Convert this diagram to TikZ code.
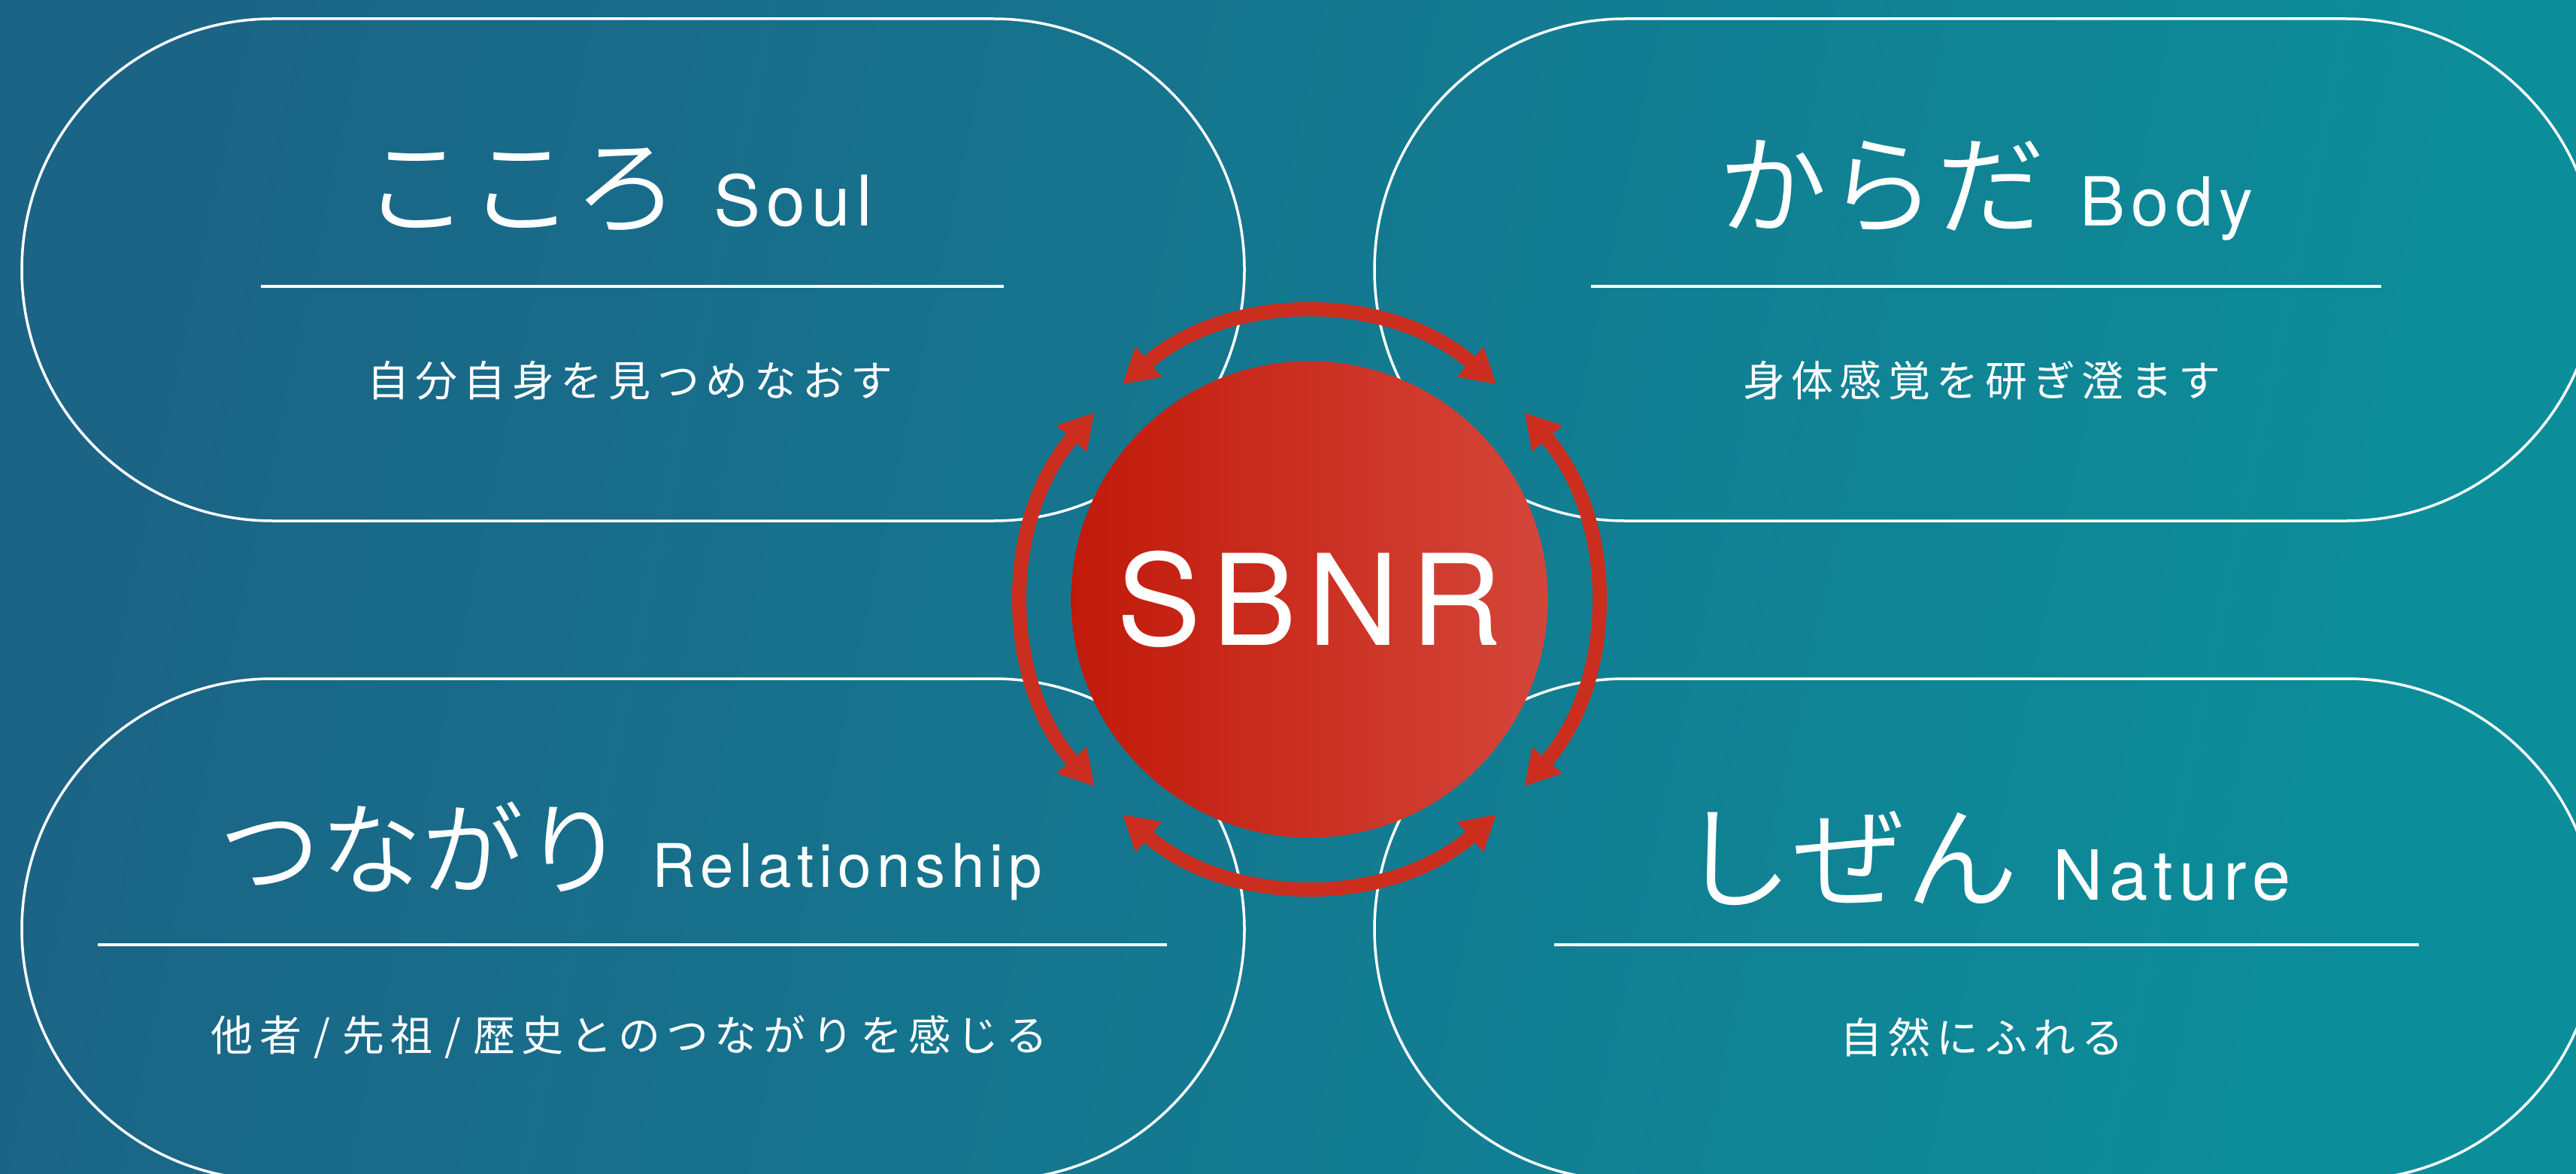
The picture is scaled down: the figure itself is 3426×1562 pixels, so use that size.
\documentclass[tikz,border=0pt]{standalone}
\usepackage{fontspec}
\setmainfont{TeX Gyre Heros}
\newfontfamily\jp{Noto Sans CJK JP DemiLight}
\newfontfamily\jpsp[LetterSpace=15]{Noto Sans CJK JP}
\newfontfamily\lat[LetterSpace=9]{TeX Gyre Heros}
\usetikzlibrary{arrows.meta,calc}
\definecolor{bgA}{HTML}{1B6486}
\definecolor{bgB}{HTML}{0C8E9A}
\definecolor{redA}{HTML}{C11A0A}
\definecolor{redB}{HTML}{D4463A}
\definecolor{ringred}{HTML}{CB2E1F}
\tikzset{
  stadium/.style={draw=white, line width=3.5pt, rounded corners=333.5pt},
  rule/.style={draw=white, line width=4pt},
  title/.style={text=white, anchor=base, inner sep=0pt},
  subtitle/.style={text=white, inner sep=0pt, font=\jpsp\fontsize{56}{56}\selectfont},
  ring/.style={draw=ringred, line width=19pt,
    arrows={Triangle[length=46pt,width=50pt]-Triangle[length=46pt,width=50pt]}},
}
\newcommand{\slsh}{\hspace{16pt}/\hspace{16pt}}
\begin{document}
\begin{tikzpicture}[x=1pt,y=-1pt]
\path[use as bounding box] (0,0) rectangle (3426,1562);
\clip (0,0) rectangle (3426,1562);
\shade[left color=bgA, right color=bgB, shading angle=78] (0,0) rectangle (3426,1562);

% stadiums
\draw[stadium] (29,25) rectangle (1655,693);
\draw[stadium] (1828,25) rectangle (3454,693);
\draw[stadium] (29,903) rectangle (1655,1570);
\draw[stadium] (1828,903) rectangle (3454,1570);

% rules
\coordinate (r1a) at (347,381);  \coordinate (r1b) at (1335,381);
\coordinate (r2a) at (2116,381); \coordinate (r2b) at (3167,381);
\coordinate (r3a) at (130,1257); \coordinate (r3b) at (1552,1257);
\coordinate (r4a) at (2067,1257);\coordinate (r4b) at (3217,1257);
\draw[rule] (r1a) -- (r1b);
\draw[rule] (r2a) -- (r2b);
\draw[rule] (r3a) -- (r3b);
\draw[rule] (r4a) -- (r4b);

% titles
\node[title] (t1) at (822,301) {\jp\fontsize{140}{140}\selectfont こころ\hspace{46pt}\lat\fontsize{93}{93}\selectfont Soul};
\node[title] (t2) at (2641,301) {\jp\fontsize{145}{145}\selectfont からだ\hspace{46pt}\lat\fontsize{90}{90}\selectfont Body};
\node[title] (t3) at (839,1180) {\jp\fontsize{135}{135}\selectfont つながり\hspace{36pt}\lat\fontsize{80}{80}\selectfont Relationship};
\node[title] (t4) at (2641,1197) {\jp\fontsize{150}{150}\selectfont しぜん\hspace{46pt}\lat\fontsize{92}{92}\selectfont Nature};

% subtitles
\node[subtitle] (s1) at (838,506) {自分自身を見つめなおす};
\node[subtitle] (s2) at (2636,506) {身体感覚を研ぎ澄ます};
\node[subtitle] (s3) at (837,1380) {他者\slsh 先祖\slsh 歴史とのつながりを感じる};
\node[subtitle] (s4) at (2636,1380) {自然にふれる};

% centre circle
\node[circle, minimum size=634pt, inner sep=0pt, left color=redA, right color=redB,
      text=white, font=\lat\fontsize{168}{168}\selectfont] (sbnr) at (1741.5,797.5) {SBNR};

% ring arrows
\draw[ring] ($(sbnr.center)+(49:379)$) arc[start angle=49, end angle=131, radius=379];
\draw[ring] ($(sbnr.center)+(139:379)$) arc[start angle=139, end angle=221, radius=379];
\draw[ring] ($(sbnr.center)+(229:379)$) arc[start angle=229, end angle=311, radius=379];
\draw[ring] ($(sbnr.center)+(319:379)$) arc[start angle=319, end angle=401, radius=379];
\end{tikzpicture}
\end{document}
